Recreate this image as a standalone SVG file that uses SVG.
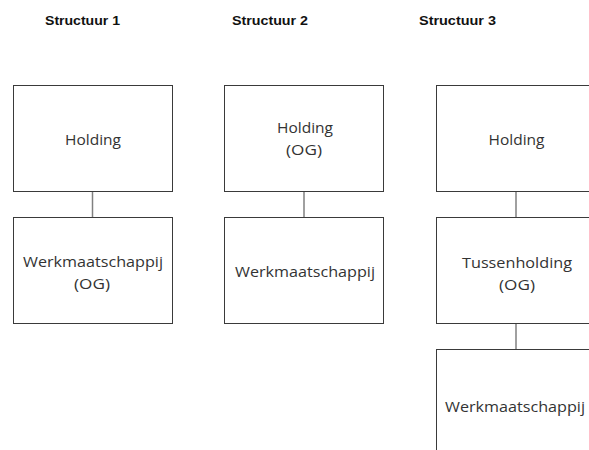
<svg xmlns="http://www.w3.org/2000/svg" width="589" height="450" viewBox="0 0 589 450">
<style>
.hdr{font-family:"Liberation Sans",Arial,sans-serif;font-weight:bold;font-size:12px;fill:#111}
.box{fill:#fff;stroke:#3a3a3a;stroke-width:1}
.lbl{font-family:"Open Sans","Liberation Sans",sans-serif;font-size:14px;fill:#333;text-anchor:middle}
.con{stroke:#808080;stroke-width:1.5;fill:none}
</style>
<rect width="589" height="450" fill="#fff"/>
<g id="headers">
<text class="hdr" x="45" y="25" textLength="75" lengthAdjust="spacingAndGlyphs">Structuur 1</text>
<text class="hdr" x="232" y="25" textLength="76" lengthAdjust="spacingAndGlyphs">Structuur 2</text>
<text class="hdr" x="419" y="25" textLength="77" lengthAdjust="spacingAndGlyphs">Structuur 3</text>
</g>
<g id="connectors">
<line class="con" x1="92.5" y1="191" x2="92.5" y2="217"/>
<line class="con" x1="304" y1="191" x2="304" y2="217"/>
<line class="con" x1="516" y1="191" x2="516" y2="217"/>
<line class="con" x1="516" y1="323" x2="516" y2="349"/>
</g>
<g id="s1-holding">
<rect class="box" x="13.5" y="85.5" width="159" height="106"/>
<text class="lbl" x="93" y="145" textLength="56" lengthAdjust="spacingAndGlyphs">Holding</text>
</g>
<g id="s1-werk">
<rect class="box" x="13.5" y="217.5" width="159" height="106"/>
<text class="lbl" x="93" y="267" textLength="140" lengthAdjust="spacingAndGlyphs">Werkmaatschappij</text>
<text class="lbl" x="92" y="289" textLength="36" lengthAdjust="spacingAndGlyphs">(OG)</text>
</g>
<g id="s2-holding">
<rect class="box" x="224.5" y="85.5" width="159" height="106"/>
<text class="lbl" x="305" y="133" textLength="56" lengthAdjust="spacingAndGlyphs">Holding</text>
<text class="lbl" x="304" y="155" textLength="36" lengthAdjust="spacingAndGlyphs">(OG)</text>
</g>
<g id="s2-werk">
<rect class="box" x="224.5" y="217.5" width="159" height="106"/>
<text class="lbl" x="305" y="277" textLength="140" lengthAdjust="spacingAndGlyphs">Werkmaatschappij</text>
</g>
<g id="s3-holding">
<rect class="box" x="436.5" y="85.5" width="159" height="106"/>
<text class="lbl" x="516.5" y="145" textLength="56" lengthAdjust="spacingAndGlyphs">Holding</text>
</g>
<g id="s3-tussen">
<rect class="box" x="436.5" y="217.5" width="159" height="106"/>
<text class="lbl" x="517" y="268" textLength="110" lengthAdjust="spacingAndGlyphs">Tussenholding</text>
<text class="lbl" x="517" y="290" textLength="36" lengthAdjust="spacingAndGlyphs">(OG)</text>
</g>
<g id="s3-werk">
<rect class="box" x="436.5" y="349.5" width="159" height="106"/>
<text class="lbl" x="515" y="412" textLength="140" lengthAdjust="spacingAndGlyphs">Werkmaatschappij</text>
</g>
</svg>
